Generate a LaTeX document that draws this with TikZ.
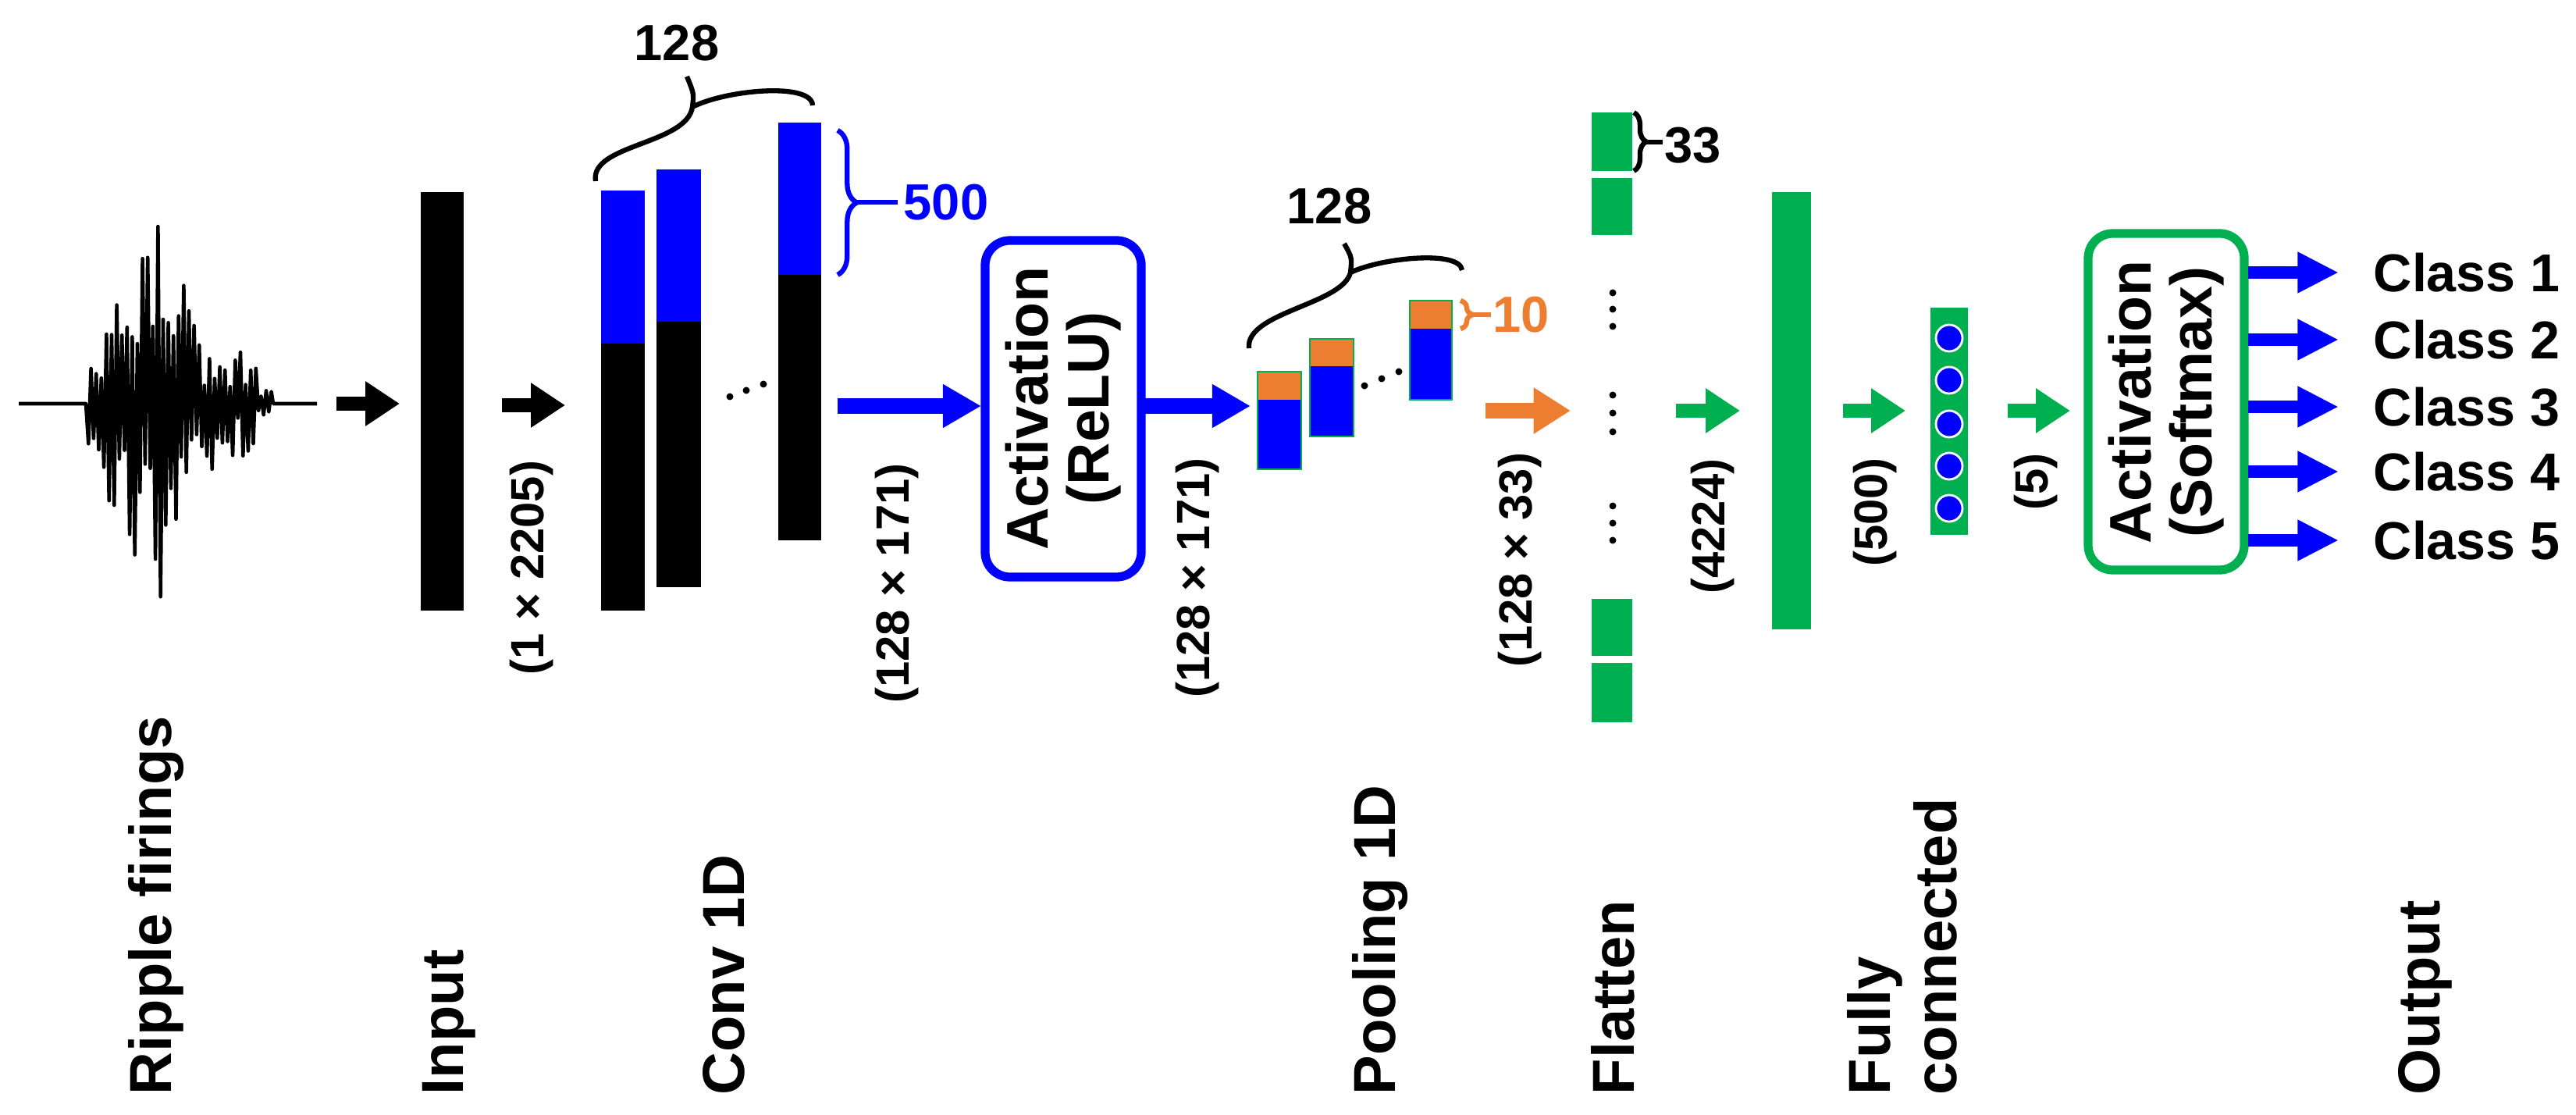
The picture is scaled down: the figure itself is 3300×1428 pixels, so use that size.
\documentclass[tikz,border=0pt]{standalone}
\usepackage{fontspec}
\setmainfont{Liberation Sans}
\usetikzlibrary{arrows.meta,decorations.pathreplacing}
\definecolor{bl}{RGB}{0,0,255}
\definecolor{og}{RGB}{237,125,49}
\definecolor{gr}{RGB}{0,176,80}
\begin{document}
\begin{tikzpicture}[x=0.01cm,y=-0.01cm,
  fat/.style={line width=5pt,-{Triangle[length=12.5pt,width=15.5pt]}},
  blong/.style={line width=5.7pt,bl,-{Triangle[length=14pt,width=15pt]}},
  carr/.style={line width=4.5pt,bl,-{Triangle[length=15pt,width=14pt]}},
  lbl/.style={font=\bfseries\fontsize{21.6pt}{24pt}\selectfont,rotate=90,anchor=west,inner sep=0pt,align=left},
  dim/.style={font=\bfseries\fontsize{17pt}{19pt}\selectfont,rotate=90,inner sep=0pt},
  act/.style={font=\bfseries\fontsize{21.4pt}{22pt}\selectfont,rotate=90,align=center,inner sep=0pt},
  num/.style={font=\bfseries\fontsize{18.5pt}{20pt}\selectfont,inner sep=0pt},
  cls/.style={font=\bfseries\fontsize{19.4pt}{20pt}\selectfont,anchor=west,inner sep=0pt},
  brc/.style={line width=1.8pt},
  dotc/.style={fill=black,radius=4.5}]
\useasboundingbox (0,0) rectangle (3300,1428);
\fill[white] (0,0) rectangle (3300,1428);
% waveform
\pgfmathsetseed{11}
\draw[line width=1.3pt,line join=round] (24,517) -- (110,517)
  \foreach \i in {1,...,72}{ -- ({110+\i*3.3},{517+(2*mod(\i,2)-1)*(0.2+0.8*rnd)*(300*exp(-(((110+\i*3.3)-190)/50)^2)+70*exp(-(((110+\i*3.3)-290)/35)^2)+25)}) }
  -- (350,517) -- (406,517);
\coordinate (w) at (431,517);
% input
\fill (539,246) rectangle (594,782);
\coordinate (inL) at (512,517);
\draw[fat] (w) -- (inL);
\coordinate (i1) at (643,519); \coordinate (i2) at (724,519);
\draw[fat] (i1) -- (i2);
\node[dim] (d1) at (681,727) {(1 × 2205)};
% conv
\fill[bl] (770,244) rectangle (826,440); \fill (770,440) rectangle (826,782);
\fill[bl] (841,217) rectangle (898,412); \fill (841,412) rectangle (898,752);
\fill[bl] (997,157) rectangle (1052,352); \fill (997,352) rectangle (1052,692);
\fill[dotc] (935,508) circle; \fill[dotc] (956,500) circle; \fill[dotc] (978,492) circle;
\draw[brc] (763,232) .. controls (755,185) and (880,185) .. (887,137)
  .. controls (889,120) .. (880,98);
\draw[brc] (887,137) .. controls (930,115) and (1040,105) .. (1041,135);
\node[num] (n128a) at (867,55) {128};
\draw[bl,brc,decorate,decoration={brace,amplitude=7pt}] (1073,167) -- (1073,352);
\coordinate (bt) at (1097,259); \coordinate (be) at (1150,259);
\draw[bl,brc] (bt) -- (be);
\node[num,bl,anchor=west] (n500) at (1157,259) {500};
% relu
\coordinate (r0) at (1073,520); \coordinate (r1) at (1257,520);
\draw[blong] (r0) -- (r1);
\draw[bl,line width=3.2pt,rounded corners=9pt] (1262,308) rectangle (1462,739);
\node[act] (relu) at (1362,523) {Activation\\(ReLU)};
\node[dim] (d2) at (1149,747) {(128 × 171)};
\coordinate (r2) at (1466,520); \coordinate (r3) at (1602,520);
\draw[blong] (r2) -- (r3);
\node[dim] (d3) at (1534,740) {(128 × 171)};
% pooling
\tikzset{pb/.style={draw=gr,line width=0.4pt}}
\fill[og] (1611,476) rectangle (1667,512); \fill[bl] (1611,512) rectangle (1667,601);
\fill[og] (1678,434) rectangle (1734,469); \fill[bl] (1678,469) rectangle (1734,559);
\fill[og] (1806,385) rectangle (1860,421); \fill[bl] (1806,421) rectangle (1860,512);
\draw[pb] (1611,476) rectangle (1667,601); \draw[pb] (1678,434) rectangle (1734,559); \draw[pb] (1806,385) rectangle (1860,512);
\fill[dotc] (1748,494) circle; \fill[dotc] (1770,485) circle; \fill[dotc] (1792,476) circle;
\draw[brc] (1600,446) .. controls (1595,400) and (1720,390) .. (1730,349)
  .. controls (1732,330) .. (1722,312);
\draw[brc] (1730,349) .. controls (1770,330) and (1870,320) .. (1873,346);
\node[num] (n128b) at (1703,264) {128};
\draw[og,brc,decorate,decoration={brace,amplitude=4.5pt}] (1871,385) -- (1871,421);
\coordinate (ot) at (1885,403); \coordinate (oe) at (1910,403);
\draw[og,brc] (ot) -- (oe);
\node[num,og,anchor=west] (n10) at (1912,403) {10};
\coordinate (o0) at (1903,526); \coordinate (o1) at (2012,526);
\draw[og,line width=5.5pt,-{Triangle[length=13.5pt,width=16pt]}] (o0) -- (o1);
\node[dim] (d4) at (1947,717) {(128 × 33)};
% flatten
\foreach \a/\b in {144/219,228/301,767/840,849/925} \fill[gr] (2039,\a) rectangle (2091,\b);
\foreach \y in {375,396,418, 506,529,553, 648,670,692} \fill[dotc] (2066,\y) circle;
\draw[brc,decorate,decoration={brace,amplitude=4.5pt}] (2093,144) -- (2093,219);
\coordinate (ft) at (2107,182); \coordinate (fe) at (2130,182);
\draw[brc] (ft) -- (fe);
\node[num,anchor=west] (n33) at (2132,186) {33};
\coordinate (g0) at (2147,526); \coordinate (g1) at (2229,526);
\draw[fat,gr] (g0) -- (g1);
\node[dim] (d5) at (2194,674) {(4224)};
% fc
\fill[gr] (2270,246) rectangle (2320,806);
\coordinate (g2) at (2361,526); \coordinate (g3) at (2441,526);
\draw[fat,gr] (g2) -- (g3);
\node[dim] (d6) at (2402,656) {(500)};
\fill[gr] (2473,394) rectangle (2521,685);
\foreach \y in {433,487,543,597,651} \filldraw[fill=bl,draw=white,line width=0.8pt] (2497,\y) circle (17);
\coordinate (g4) at (2572,526); \coordinate (g5) at (2652,526);
\draw[fat,gr] (g4) -- (g5);
\node[dim] (d7) at (2608,617) {(5)};
% softmax
\draw[gr,line width=3.2pt,rounded corners=9pt] (2675,299) rectangle (2875,730);
\node[act] (soft) at (2775,515) {Activation\\(Softmax)};
\foreach \y/\c in {349/1,435/2,521/3,604/4,692/5}{
  \coordinate (a\c) at (2880,\y); \coordinate (b\c) at (2996,\y);
  \draw[carr] (a\c) -- (b\c);
  \node[cls] (c\c) at (3040,\y) {Class \c};
}
% bottom labels
\node[lbl] (L1) at (200,1403) {Ripple firings};
\node[lbl] (L2) at (575,1403) {Input};
\node[lbl] (L3) at (927,1403) {Conv 1D};
\node[lbl] (L4) at (1768,1403) {Pooling 1D};
\node[lbl] (L5) at (2066,1403) {Flatten};
\node[lbl] (L6) at (2437,1403) {Fully\\connected};
\node[lbl] (L7) at (3107,1403) {Output};
\end{tikzpicture}
\end{document}
